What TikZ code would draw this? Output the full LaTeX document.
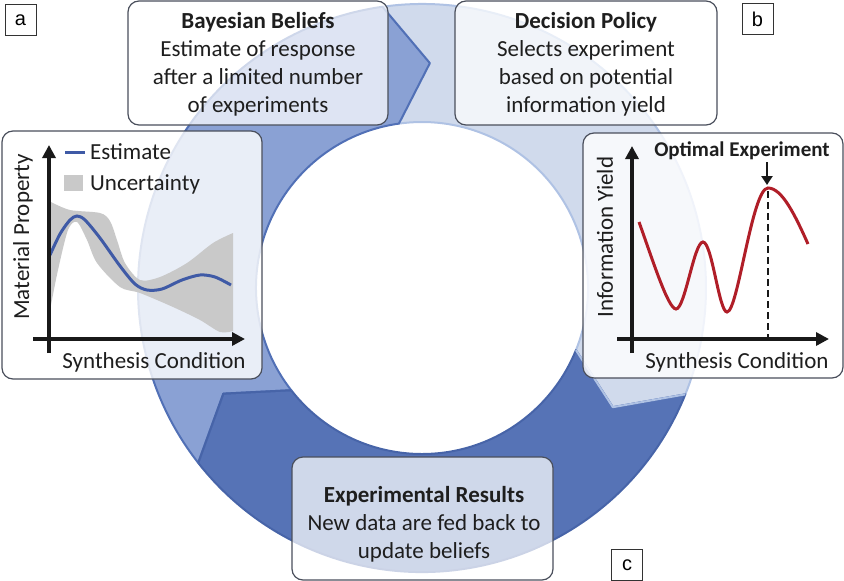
\documentclass[tikz,border=0pt]{standalone}
\usepackage{fontspec}
\setmainfont{Carlito}
\newfontfamily\arialf{Liberation Sans}
\usetikzlibrary{arrows.meta}

\definecolor{medblue}{HTML}{8AA1D4}
\definecolor{medline}{HTML}{5170B6}
\definecolor{lightblue}{HTML}{D0DAEC}
\definecolor{lightline}{HTML}{AFC2E4}
\definecolor{darkblue}{HTML}{5673B6}
\definecolor{darkline}{HTML}{4764A8}
\definecolor{boxline}{HTML}{4A4F5C}
\definecolor{estblue}{HTML}{3F5AA6}
\definecolor{bandgray}{HTML}{C9C9C9}
\definecolor{redcurve}{HTML}{B01E28}
\definecolor{txt}{HTML}{1E1E1E}

\tikzset{
 infobox/.style={draw=boxline, line width=1.2pt, rounded corners=11pt, fill=white, fill opacity=0.72, inner sep=0pt},
 plotbox/.style={infobox, fill opacity=0.82},
 boxtext/.style={align=center, text=txt, font=\fontsize{23}{28}\selectfont},
 axislabel/.style={text=txt, font=\fontsize{23}{23}\selectfont, inner sep=0pt},
 axisline/.style={line width=4pt, draw=black!90, -{Triangle[length=13pt,width=13pt]}},
 lblbox/.style={draw=black!80, line width=0.8pt, minimum width=31pt, minimum height=31pt, inner sep=0pt, font=\arialf\fontsize{20}{20}\selectfont, fill=white},
 segedge/.style={line width=2pt, line join=round}
}

\begin{document}
\begin{tikzpicture}[x=1pt,y=-1pt]
\useasboundingbox (0,0) rectangle (844,581);

% ---------- ring ----------
\begin{scope}[shift={(422,288)},yscale=-1]
\def\Ro{284}\def\Ri{166}\def\Rm{225}
% light segment (Decision Policy)
\path[fill=lightblue,draw=lightline,segedge] (98:\Ro) arc[start angle=98,end angle=-22,radius=\Ro] -- (-32:\Rm) -- (-22:\Ri) arc[start angle=-22,end angle=98,radius=\Ri] -- (88:\Rm) -- cycle;
% dark segment (Experimental Results)
\path[fill=darkblue,draw=darkline,segedge] (-22:\Ro) arc[start angle=-22,end angle=-142,radius=\Ro] -- (-152:\Rm) -- (-142:\Ri) arc[start angle=-142,end angle=-22,radius=\Ri] -- (-32:\Rm) -- cycle;
% medium segment (Bayesian Beliefs)
\path[fill=medblue,draw=medline,segedge] (218:\Ro) arc[start angle=218,end angle=98,radius=\Ro] -- (88:\Rm) -- (98:\Ri) arc[start angle=98,end angle=218,radius=\Ri] -- (208:\Rm) -- cycle;
% heads drawn over the following tails
\draw[lightline,segedge] (-22:\Ro) -- (-32:\Rm) -- (-22:\Ri);
\draw[darkline,segedge] (-142:\Ro) -- (-152:\Rm) -- (-142:\Ri);
\end{scope}

% ---------- text boxes ----------
\node[infobox, minimum width=260pt, minimum height=124pt] (bayesbox) at (258,63) {};
\node[boxtext] (bayestext) at (258,64) {\textbf{Bayesian Beliefs}\\Estimate of response\\after a limited number\\of experiments};

\node[infobox, minimum width=262pt, minimum height=124pt] (decbox) at (586,63) {};
\node[boxtext] (dectext) at (586,64) {\textbf{Decision Policy}\\Selects experiment\\based on potential\\information yield};

\node[infobox, minimum width=261pt, minimum height=123pt] (expbox) at (422.5,518.5) {};
\node[boxtext] (exptext) at (424,524) {\textbf{Experimental Results}\\New data are fed back to\\update beliefs};

% ---------- left plot ----------
\node[plotbox, minimum width=260pt, minimum height=248pt] (leftbox) at (132,255) {};
\fill[bandgray] plot[smooth] coordinates {(51,202) (70,210) (100,213) (110,221) (117,240) (125,263) (140,280) (160,277) (187,263) (213,243) (233,233)}
  -- (233,331) -- plot[smooth] coordinates {(233,331) (220,332) (200,320) (173,307) (140,293) (120,287) (97,263) (87,240) (77,222) (68,230) (58,270) (51,305)} -- cycle;
\draw[estblue, line width=3pt] plot[smooth] coordinates {(50,255) (60,234) (70,220) (77,216) (85,220) (100,238) (120,266) (135,284) (147,290) (162,289) (182,280) (200,275) (215,277) (231,285)};
\draw[axisline] (49,353) -- (49,145);
\draw[axisline] (33,339) -- (245,339);
\draw[estblue, line width=3pt] (65,152) -- (85,152);
\node[axislabel, anchor=west] (legest) at (90,152) {Estimate};
\fill[bandgray] (64,175) rectangle (83,191);
\node[axislabel, anchor=west] (legunc) at (90,184) {Uncertainty};
\node[axislabel] (lxlab) at (154,362) {Synthesis Condition};
\node[axislabel, rotate=90] (lylab) at (23,237) {Material Property};

% ---------- right plot ----------
\node[plotbox, minimum width=260pt, minimum height=245pt] (rightbox) at (713,255.5) {};
\draw[redcurve, line width=3pt] (639,222) .. controls (652,258) and (668,309) .. (676,309)
  .. controls (685,309) and (694,242) .. (703,242)
  .. controls (712,242) and (719,312) .. (727,312)
  .. controls (738,312) and (752,188) .. (768,188)
  .. controls (782,188) and (795,215) .. (808,244);
\draw[black!90, line width=2.5pt, dash pattern=on 7pt off 4pt] (768,191) -- (768,339);
\draw[axisline] (632,353) -- (632,146);
\draw[axisline] (617,339) -- (829,339);
\coordinate (optstart) at (767,162);
\coordinate (optend) at (767,185);
\draw[black!90, line width=2.5pt, -{Triangle[length=9pt,width=11pt]}] (optstart) -- (optend);
\node[axislabel, font=\bfseries\fontsize{21}{21}\selectfont] (optlab) at (742,151) {Optimal Experiment};
\node[axislabel] (rxlab) at (737,362) {Synthesis Condition};
\node[axislabel, rotate=90] (rylab) at (605,237) {Information Yield};

% ---------- panel labels ----------
\node[lblbox] (la) at (20.5,20) {a};
\node[lblbox] (lb) at (757.5,19) {b};
\node[lblbox] (lc) at (627,565) {c};
\end{tikzpicture}
\end{document}
